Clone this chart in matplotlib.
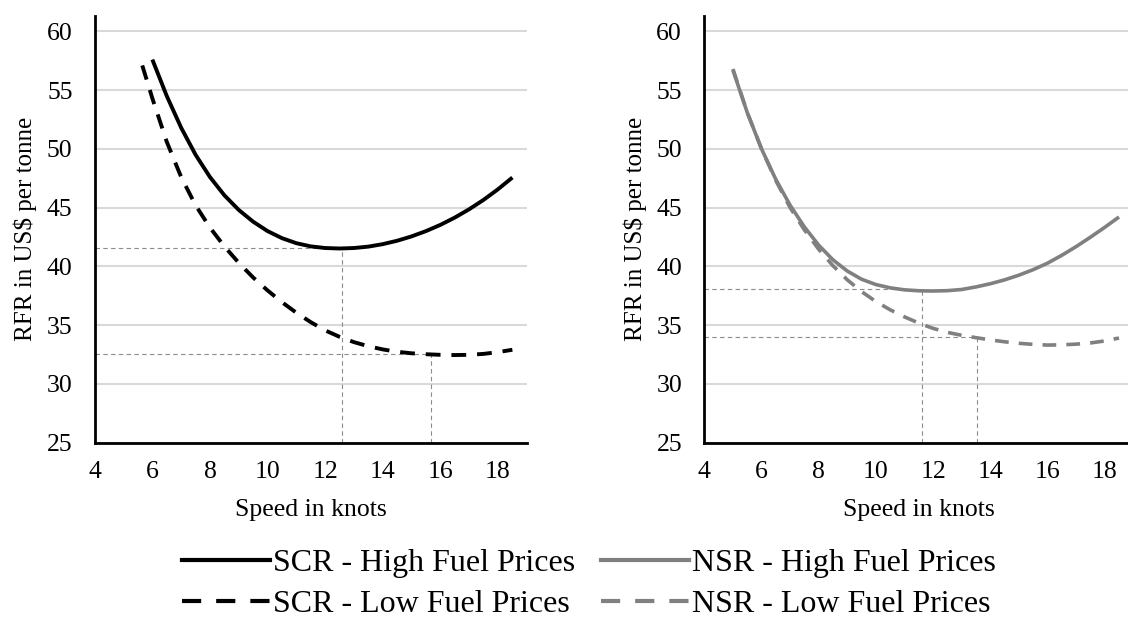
import matplotlib
matplotlib.use("Agg")
import matplotlib.pyplot as plt
from matplotlib.lines import Line2D

plt.rcParams['font.family'] = ['Liberation Serif', 'DejaVu Serif']

# speed (knots) and RFR (US$ per tonne)
scr_high_speed = [6.0, 6.5, 7.0, 7.5, 8.0, 8.5, 9.0, 9.5, 10.0, 10.5, 11.0, 11.5, 12.0,
                  12.5, 13.0, 13.5, 14.0, 14.5, 15.0, 15.5, 16.0, 16.5, 17.0, 17.5, 18.0, 18.5]
scr_high_rfr = [57.6, 54.5, 51.8, 49.5, 47.6, 46.05, 44.8, 43.8, 43.0, 42.4, 41.97, 41.7, 41.56,
                41.52, 41.56, 41.68, 41.89, 42.18, 42.55, 43.0, 43.53, 44.15, 44.86, 45.66, 46.56, 47.56]

scr_low_speed = [5.65, 6.0, 6.5, 7.0, 7.5, 8.0, 8.5, 9.0, 9.5, 10.0, 10.5, 11.0, 11.5, 12.0,
                 12.5, 13.0, 13.5, 14.0, 14.5, 15.0, 15.5, 16.0, 16.5, 17.0, 17.5, 18.0, 18.5]
scr_low_rfr = [57.1, 54.3, 50.6, 47.6, 45.2, 43.3, 41.7, 40.3, 39.05, 37.95, 36.95, 36.05, 35.25,
               34.55, 34.0, 33.55, 33.2, 32.93, 32.73, 32.6, 32.52, 32.47, 32.45, 32.47, 32.55, 32.7, 32.9]

nsr_high_speed = [5.0, 5.5, 6.0, 6.5, 7.0, 7.5, 8.0, 8.5, 9.0, 9.5, 10.0, 10.5, 11.0, 11.5,
                  12.0, 12.5, 13.0, 13.5, 14.0, 14.5, 15.0, 15.5, 16.0, 16.5, 17.0, 17.5, 18.0, 18.5]
nsr_high_rfr = [56.7, 53.1, 50.0, 47.4, 45.2, 43.35, 41.8, 40.55, 39.6, 38.9, 38.45, 38.17, 38.0, 37.92,
                37.9, 37.93, 38.03, 38.25, 38.52, 38.85, 39.25, 39.72, 40.27, 40.94, 41.68, 42.48, 43.32, 44.2]

nsr_low_speed = [5.0, 5.5, 6.0, 6.5, 7.0, 7.5, 8.0, 8.5, 9.0, 9.5, 10.0, 10.5, 11.0, 11.5,
                 12.0, 12.5, 13.0, 13.5, 14.0, 14.5, 15.0, 15.5, 16.0, 16.5, 17.0, 17.5, 18.0, 18.5]
nsr_low_rfr = [56.8, 53.1, 50.0, 47.3, 45.0, 43.1, 41.45, 40.05, 38.85, 37.85, 37.0, 36.3, 35.7, 35.17,
               34.72, 34.38, 34.13, 33.93, 33.74, 33.58, 33.45, 33.36, 33.3, 33.32, 33.38, 33.48, 33.65, 33.9]

# optimum points marked with thin dashed guides (speed, rfr)
scr_optima = [(12.58, 41.55), (15.68, 32.55)]
nsr_optima = [(11.62, 38.05), (13.52, 33.95)]

x_ticks = [4, 6, 8, 10, 12, 14, 16, 18]
y_ticks = [25, 30, 35, 40, 45, 50, 55, 60]

BLACK = '#000000'
GREY = '#808080'
DASH = (0, (3.8, 2.8))

fig = plt.figure(figsize=(11.28, 6.19), dpi=100)
ax1 = fig.add_axes([0.084, 0.285, 0.383, 0.689])
ax2 = fig.add_axes([0.6244, 0.285, 0.3803, 0.689])


def style_axis(ax):
    ax.set_xlim(4, 19)
    ax.set_ylim(25, 61.3)
    ax.set_xticks(x_ticks)
    ax.set_yticks(y_ticks)
    ax.tick_params(length=0, labelsize=18.5)
    ax.tick_params(axis='x', pad=13)
    ax.tick_params(axis='y', pad=16)
    for s in ['top', 'right']:
        ax.spines[s].set_visible(False)
    for s in ['left', 'bottom']:
        ax.spines[s].set_linewidth(2.0)
        ax.spines[s].set_color('black')
    ax.grid(axis='y', color='#d9d9d9', linewidth=1.5)
    ax.set_axisbelow(True)
    ax.set_xlabel('Speed in knots', fontsize=18.5, labelpad=12)
    ax.set_ylabel('RFR in US$ per tonne', fontsize=18, labelpad=7)


def guides(ax, pts):
    for sx, sy in pts:
        ax.plot([4, sx], [sy, sy], color='#8c8c8c', lw=0.8, ls=(0, (4, 3)), zorder=1.5)
        ax.plot([sx, sx], [25, sy], color='#8c8c8c', lw=0.8, ls=(0, (4, 3)), zorder=1.5)


for ax in (ax1, ax2):
    style_axis(ax)

guides(ax1, scr_optima)
ax1.plot(scr_high_speed, scr_high_rfr, color=BLACK, lw=2.8, solid_capstyle='butt', zorder=3)
ax1.plot(scr_low_speed, scr_low_rfr, color=BLACK, lw=2.8, ls=DASH, zorder=3)

guides(ax2, nsr_optima)
ax2.plot(nsr_high_speed, nsr_high_rfr, color=GREY, lw=2.6, solid_capstyle='butt', zorder=3)
ax2.plot(nsr_low_speed, nsr_low_rfr, color=GREY, lw=2.6, ls=DASH, zorder=3)

LEG_DASH = (0, (4.6, 3.6))
handles = [
    Line2D([], [], color=BLACK, lw=3),
    Line2D([], [], color=BLACK, lw=3, ls=LEG_DASH),
    Line2D([], [], color=GREY, lw=3),
    Line2D([], [], color=GREY, lw=3, ls=LEG_DASH),
]
labels = ['SCR - High Fuel Prices', 'SCR - Low Fuel Prices',
          'NSR - High Fuel Prices', 'NSR - Low Fuel Prices']
fig.legend(handles, labels, loc='center', bbox_to_anchor=(0.522, 0.057), ncol=2,
           frameon=False, fontsize=23, handlelength=2.75, handletextpad=0.1,
           columnspacing=0.8, labelspacing=0.36, borderpad=0)

fig.savefig('out.png', dpi=100)
